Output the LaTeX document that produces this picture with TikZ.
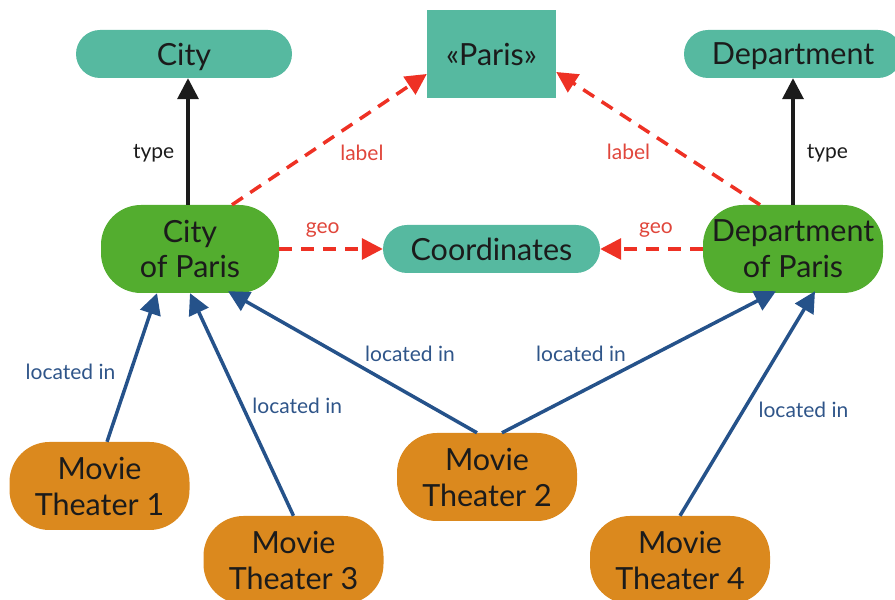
\documentclass[tikz,border=0pt]{standalone}
\usepackage{fontspec}
\setmainfont{Lato}
\usetikzlibrary{arrows.meta}

\definecolor{classteal}{HTML}{56B9A0}
\definecolor{instgreen}{HTML}{53AD2F}
\definecolor{theaterorange}{HTML}{DB891E}
\definecolor{linkred}{HTML}{EE3124}
\definecolor{linkredtext}{HTML}{E0463B}
\definecolor{locblue}{HTML}{25528A}
\definecolor{locbluetext}{HTML}{2F5589}
\definecolor{inkdark}{HTML}{1B1B1B}

\begin{document}
\begin{tikzpicture}[x=1pt,y=1pt,
  box/.style={text=inkdark, font=\fontsize{30.5}{36}\selectfont, align=center, inner sep=0pt},
  oneline/.style={box, text depth=0pt},
  pill/.style={oneline, fill=classteal, rounded corners=24pt, minimum height=48pt},
  entity/.style={box, fill=instgreen, rounded corners=40pt, minimum height=88pt},
  theater/.style={box, fill=theaterorange, rounded corners=40pt, minimum height=88pt, minimum width=180pt},
  tip/.style={-{Triangle[length=21pt,width=21pt]}},
  typeedge/.style={tip, line width=3.5pt, draw=inkdark},
  linkedge/.style={tip, line width=3.5pt, draw=linkred, dash pattern=on 13pt off 9pt},
  locedge/.style={tip, line width=3.5pt, draw=locblue},
  typelbl/.style={text=inkdark, font=\fontsize{21}{24}\selectfont, inner sep=0pt},
  linklbl/.style={text=linkredtext, font=\fontsize{21}{24}\selectfont, inner sep=0pt},
  loclbl/.style={text=locbluetext, font=\fontsize{21}{24}\selectfont, inner sep=0pt}
]
\useasboundingbox (0,0) rectangle (895,600);

% classes and literal
\node[pill, minimum width=216pt] (city) at (184,546) {City};
\node[oneline, fill=classteal, minimum width=129pt, minimum height=88pt] (paris) at (491.5,546) {«Paris»};
\node[pill, minimum width=218pt] (dept) at (793,546) {Department};

% entities
\node[entity, minimum width=178pt] (cp) at (190,351) {City\\of Paris};
\node[pill, minimum width=217pt] (coord) at (491.5,351) {Coordinates};
\node[entity, minimum width=180pt] (dp) at (793,351) {Department\\of Paris};

% movie theaters
\node[theater] (mt1) at (99.5,114) {Movie\\Theater 1};
\node[theater] (mt3) at (293.5,40) {Movie\\Theater 3};
\node[theater] (mt2) at (487,123) {Movie\\Theater 2};
\node[theater] (mt4) at (680,40) {Movie\\Theater 4};

% type links
\draw[typeedge] ([xshift=-2pt]cp.north) -- ([xshift=4pt]city.south)
  node[pos=0.41, left=12pt, typelbl] {type};
\draw[typeedge] (dp.north) -- (dept.south)
  node[pos=0.41, right=12pt, typelbl] {type};

% label links
\draw[linkedge] ([xshift=42pt]cp.north) -- ([yshift=-20pt]paris.west)
  node[pos=0.4, xshift=52pt, linklbl] {label};
\draw[linkedge] ([xshift=-33pt]dp.north) -- ([yshift=-18pt]paris.east)
  node[pos=0.4, xshift=-50pt, linklbl] {label};

% geo links
\draw[linkedge] (cp.east) -- (coord.west)
  node[pos=0.42, yshift=19pt, linklbl] {geo};
\draw[linkedge] (dp.west) -- (coord.east)
  node[pos=0.456, yshift=19pt, linklbl] {geo};

% located in
\draw[locedge] ([xshift=7.5pt]mt1.north) -- ([xshift=-33pt]cp.south)
  node[pos=0.47, xshift=-60pt, loclbl] {located in};
\draw[locedge] (mt3.north) -- (cp.south)
  node[pos=0.495, xshift=55pt, loclbl] {located in};
\draw[locedge] ([xshift=-10pt]mt2.north) -- ([xshift=38pt,yshift=2pt]cp.south)
  node[pos=0.5, xshift=57.5pt, yshift=8pt, loclbl] {located in};
\draw[locedge] ([xshift=15pt]mt2.north) -- ([xshift=-17pt,yshift=2pt]dp.south)
  node[pos=0.5, xshift=-58pt, yshift=8pt, loclbl] {located in};
\draw[locedge] (mt4.north) -- ([xshift=22pt,yshift=2pt]dp.south)
  node[pos=0.47, xshift=60pt, loclbl] {located in};
\end{tikzpicture}
\end{document}
